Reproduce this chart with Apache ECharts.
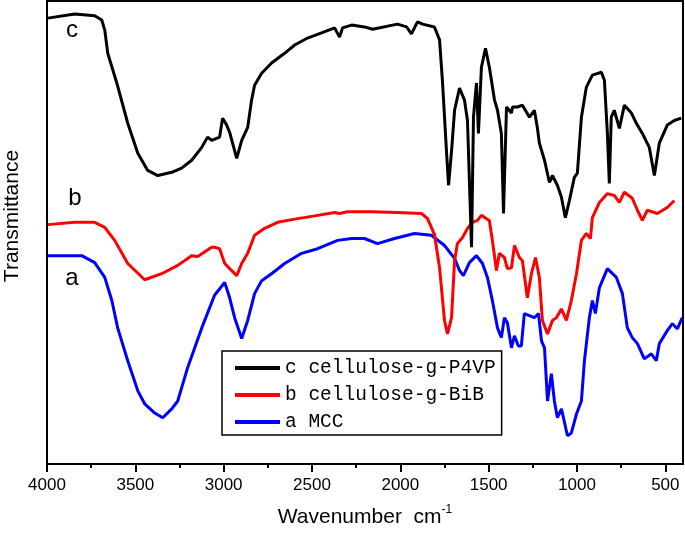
<!DOCTYPE html>
<html>
<head>
<meta charset="utf-8">
<script src="https://cdn.jsdelivr.net/npm/echarts@6/dist/echarts.min.js"></script>
<style>
  html, body { margin: 0; padding: 0; background: #fff; }
  #chart { width: 685px; height: 535px; }
</style>
</head>
<body>
<div id="chart"></div>
<script>
// FTIR spectra, [wavenumber cm-1, transmittance (arb. units)]
const seriesC = [
  [3995,96.3],[3843,97.2],[3730,96.8],[3690,95.9],[3673,93.7],[3656,88.7],[3605,82.3],[3543,73.6],
  [3486,67.1],[3430,63.4],[3373,62.3],[3294,63.0],[3238,63.9],[3181,65.6],[3124,68.4],[3091,70.6],
  [3068,69.9],[3023,70.6],[3006,74.7],[2983,73.2],[2966,71.6],[2926,66.0],[2898,69.9],[2864,72.7],
  [2842,78.6],[2825,81.8],[2785,84.4],[2729,86.6],[2655,88.7],[2598,90.5],[2525,92.0],[2446,93.1],
  [2372,94.2],[2344,92.2],[2327,94.2],[2276,94.8],[2203,94.4],[2157,93.9],[2146,93.7],[2016,95.0],
  [1965,94.4],[1937,92.9],[1903,95.5],[1874,95.0],[1807,94.4],[1778,91.6],[1761,82.3],[1739,67.7],
  [1727,60.2],[1710,67.7],[1693,76.4],[1665,81.2],[1637,78.6],[1620,74.2],[1597,46.8],[1586,74.9],
  [1569,82.3],[1558,71.4],[1541,85.7],[1518,89.8],[1496,85.7],[1467,78.6],[1450,76.4],[1428,71.4],
  [1416,54.1],[1399,77.1],[1371,75.8],[1365,77.1],[1337,77.1],[1309,77.5],[1269,74.9],[1241,76.4],
  [1224,72.5],[1213,69.3],[1184,65.6],[1156,60.8],[1139,62.3],[1111,60.2],[1088,57.6],[1066,53.2],
  [1043,56.9],[1015,61.9],[998,62.8],[975,74.9],[947,81.4],[913,84.0],[862,84.6],[845,82.9],
  [828,71.4],[817,60.6],[806,74.9],[789,76.4],[760,72.5],[732,77.5],[692,75.8],[664,73.6],
  [630,71.4],[591,68.4],[562,62.3],[534,69.3],[489,73.2],[449,74.2],[410,74.7]
];
const seriesB = [
  [3995,51.7],[3843,52.2],[3730,52.2],[3673,51.1],[3617,48.3],[3543,43.3],[3447,39.8],[3351,41.1],
  [3260,42.9],[3181,45.0],[3147,44.8],[3068,46.8],[3051,46.8],[3023,46.5],[2994,43.3],[2966,42.2],
  [2926,40.7],[2898,43.3],[2864,45.5],[2825,49.4],[2768,50.9],[2695,52.2],[2581,53.0],[2468,53.7],
  [2372,54.3],[2344,54.1],[2299,54.5],[2163,54.5],[2016,54.3],[1880,54.1],[1846,53.0],[1807,49.6],
  [1778,42.4],[1750,31.0],[1733,28.1],[1710,31.6],[1693,43.9],[1677,47.6],[1648,48.9],[1620,50.9],
  [1592,52.2],[1563,52.6],[1541,53.7],[1496,52.6],[1479,48.3],[1456,41.8],[1439,45.5],[1411,44.6],
  [1394,42.2],[1371,42.4],[1354,47.2],[1326,44.6],[1309,43.9],[1281,35.9],[1258,41.1],[1235,44.6],
  [1213,40.3],[1196,31.0],[1167,28.1],[1139,31.0],[1117,31.6],[1088,33.5],[1060,31.0],[1032,35.3],
  [1003,41.1],[975,48.3],[947,49.8],[924,48.7],[913,53.2],[873,56.5],[828,58.4],[789,58.0],
  [760,56.5],[732,58.7],[687,57.4],[658,54.8],[630,52.6],[602,54.8],[545,54.1],[489,55.4],[449,56.9]
];
const seriesA = [
  [3995,45.0],[3803,45.0],[3730,43.5],[3673,40.3],[3633,35.3],[3600,29.4],[3543,22.3],[3486,15.8],
  [3447,13.0],[3390,11.0],[3345,10.0],[3294,11.9],[3260,13.6],[3204,20.8],[3124,29.4],[3051,36.5],
  [2994,39.2],[2966,35.9],[2938,31.6],[2898,27.1],[2864,31.0],[2825,36.8],[2785,39.6],[2729,41.1],
  [2655,43.3],[2559,45.5],[2468,46.5],[2355,48.3],[2276,48.7],[2203,48.7],[2129,47.6],[2033,48.7],
  [1920,49.8],[1824,49.4],[1750,47.2],[1693,44.4],[1665,41.8],[1643,40.7],[1609,43.5],[1569,45.0],
  [1535,43.3],[1507,40.3],[1479,35.3],[1450,29.4],[1428,27.3],[1411,31.6],[1394,30.5],[1371,25.1],
  [1354,27.7],[1332,25.5],[1315,25.5],[1298,32.5],[1241,31.6],[1218,32.5],[1201,26.6],[1184,25.1],
  [1167,13.6],[1145,19.5],[1128,13.6],[1111,10.0],[1088,11.9],[1054,6.1],[1032,6.7],[1003,10.8],
  [975,13.6],[958,22.3],[930,31.6],[913,35.3],[896,32.5],[873,38.1],[828,42.2],[777,40.3],
  [743,36.8],[715,29.4],[687,27.3],[658,26.0],[619,22.7],[579,23.8],[551,22.3],[534,26.0],
  [489,28.8],[460,30.3],[432,29.2],[404,31.6]
];

const names = ['c cellulose-g-P4VP', 'b cellulose-g-BiB', 'a MCC'];
const majorTicks = [500, 1000, 1500, 2000, 2500, 3000, 3500, 4000];
const minorTicks = [750, 1250, 1750, 2250, 2750, 3250, 3750];

const chart = echarts.init(document.getElementById('chart'));

chart.setOption({
  animation: false,
  backgroundColor: '#fff',
  grid: {
    left: 47, right: 2, top: 1, bottom: 71,
    show: true, borderColor: '#000', borderWidth: 2
  },
  legend: {
    data: names,
    orient: 'vertical',
    left: 222, top: 351,
    borderColor: '#000', borderWidth: 1.5,
    padding: [7, 6, 3, 13],
    itemWidth: 45, itemHeight: 4, itemGap: 7,
    icon: 'rect',
    textStyle: { fontFamily: 'Liberation Mono', fontSize: 19.5, color: '#000', lineHeight: 20 }
  },
  xAxis: [
    {
      type: 'value', inverse: true, min: 400, max: 4000,
      name: 'Wavenumber  cm{sup|-1}',
      nameLocation: 'middle', nameGap: 40,
      nameTextStyle: {
        fontFamily: 'Liberation Sans', fontSize: 21, color: '#000',
        rich: { sup: { fontFamily: 'Liberation Sans', fontSize: 12, color: '#000', padding: [0, 0, 14, 0] } }
      },
      axisLine: { lineStyle: { color: '#000', width: 2 } },
      axisTick: { customValues: majorTicks, inside: false, length: 8, lineStyle: { color: '#000', width: 2 } },
      axisLabel: {
        customValues: majorTicks, margin: 13,
        fontFamily: 'Liberation Sans', fontSize: 17, color: '#000',
        formatter: (v) => String(v)
      },
      splitLine: { show: false }
    },
    {
      type: 'value', inverse: true, min: 400, max: 4000, position: 'bottom',
      axisLine: { show: false },
      axisTick: { customValues: minorTicks, inside: false, length: 4, lineStyle: { color: '#000', width: 2 } },
      axisLabel: { show: false },
      splitLine: { show: false }
    }
  ],
  yAxis: {
    type: 'value', min: 0, max: 100,
    axisLine: { show: false }, axisTick: { show: false },
    axisLabel: { show: false }, splitLine: { show: false }
  },
  graphic: [
    { type: 'text', x: 12, y: 216, rotation: Math.PI / 2,
      style: { text: 'Transmittance', fontFamily: 'Liberation Sans', fontSize: 21, fill: '#000', align: 'center', verticalAlign: 'middle' } },
    { type: 'text', x: 72, y: 30, style: { text: 'c', fontFamily: 'Liberation Sans', fontSize: 24, fill: '#000', align: 'center', verticalAlign: 'middle' } },
    { type: 'text', x: 75, y: 198, style: { text: 'b', fontFamily: 'Liberation Sans', fontSize: 24, fill: '#000', align: 'center', verticalAlign: 'middle' } },
    { type: 'text', x: 72, y: 278, style: { text: 'a', fontFamily: 'Liberation Sans', fontSize: 24, fill: '#000', align: 'center', verticalAlign: 'middle' } }
  ],
  series: [
    { name: names[2], type: 'line', data: seriesA, showSymbol: false, symbol: 'none', color: '#0000ff', lineStyle: { width: 3, color: '#0000ff' } },
    { name: names[1], type: 'line', data: seriesB, showSymbol: false, symbol: 'none', color: '#ff0000', lineStyle: { width: 3, color: '#ff0000' } },
    { name: names[0], type: 'line', data: seriesC, showSymbol: false, symbol: 'none', color: '#000000', lineStyle: { width: 3, color: '#000000' } }
  ]
});
</script>
</body>
</html>
